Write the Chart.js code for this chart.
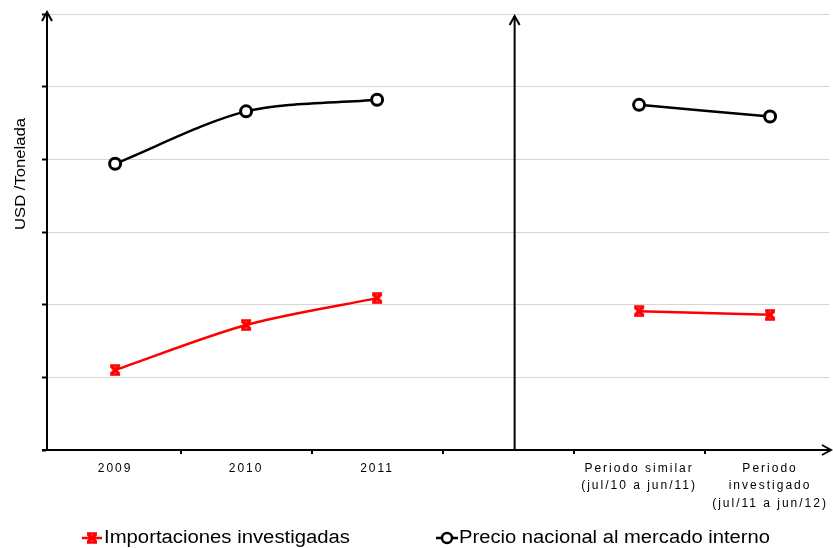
<!DOCTYPE html>
<html>
<head>
<meta charset="utf-8">
<script src="https://cdn.jsdelivr.net/npm/chart.js@4.4.1/dist/chart.umd.min.js"></script>
<style>
html,body{margin:0;padding:0;background:#fff;overflow:hidden;}
#wrap{width:833px;height:548px;overflow:hidden;position:relative;}
#c{position:absolute;left:0;top:0;width:833px;height:548px;}
</style>
</head>
<body>
<div id="wrap"><canvas id="c" width="833" height="548"></canvas></div>
<script>
// Data
const categories = ['2009', '2010', '2011', '', ['Periodo similar', '(jul/10 a jun/11)'], ['Periodo', 'investigado', '(jul/11 a jun/12)']];
const importaciones = [1.10, 1.72, 2.09, null, 1.91, 1.86];
const precioNacional = [3.94, 4.66, 4.82, null, 4.75, 4.59];
const seriesNames = ['Importaciones investigadas', 'Precio nacional al mercado interno'];
const yAxisTitle = 'USD /Tonelada';

const toPoints = arr => arr.map((v, i) => ({ x: i, y: v }));

// hourglass-like red marker
function makeRedMarker() {
  const c = document.createElement('canvas');
  c.width = 14; c.height = 12;
  const g = c.getContext('2d');
  g.strokeStyle = '#ff0000';
  g.lineWidth = 3.4;
  g.beginPath();
  g.moveTo(3, 2); g.lineTo(11, 10);
  g.moveTo(11, 2); g.lineTo(3, 10);
  g.stroke();
  g.lineWidth = 2.5;
  g.beginPath();
  g.moveTo(2, 1.5); g.lineTo(12, 1.5);
  g.moveTo(2, 10.5); g.lineTo(12, 10.5);
  g.stroke();
  return c;
}
const redMarker = makeRedMarker();

function drawArrow(ctx, x, y, dir) {
  ctx.save();
  ctx.strokeStyle = '#000';
  ctx.lineWidth = 2;
  ctx.beginPath();
  if (dir === 'up') {
    ctx.moveTo(x - 5, y + 9); ctx.lineTo(x, y); ctx.lineTo(x + 5, y + 9);
  } else {
    ctx.moveTo(x - 9, y - 5); ctx.lineTo(x, y); ctx.lineTo(x - 9, y + 5);
  }
  ctx.stroke();
  ctx.restore();
}

function fitText(ctx, text, x, y, width) {
  ctx.letterSpacing = '0px';
  const w = ctx.measureText(text).width;
  ctx.save();
  ctx.translate(x, y);
  ctx.scale(width / w, 1);
  ctx.fillText(text, 0, 0);
  ctx.restore();
}

const decor = {
  id: 'decor',
  beforeDraw(chart) {
    chart.ctx.letterSpacing = '2px';
  },
  afterDraw(chart) {
    const ctx = chart.ctx;
    ctx.letterSpacing = '0px';
    const xs = chart.scales.x, ys = chart.scales.y;
    const top = ys.getPixelForValue(6), bottom = ys.getPixelForValue(0);
    // y-axis arrow
    drawArrow(ctx, ys.right, top - 2, 'up');
    // x-axis line + arrow
    ctx.save();
    ctx.strokeStyle = '#000'; ctx.lineWidth = 2;
    ctx.beginPath(); ctx.moveTo(ys.right - 5, bottom); ctx.lineTo(831, bottom); ctx.stroke();
    // category boundary tick marks
    for (let i = 0; i < categories.length - 1; i++) {
      const tx = Math.round(xs.getPixelForValue(i + 0.5));
      ctx.beginPath(); ctx.moveTo(tx, bottom); ctx.lineTo(tx, bottom + 4); ctx.stroke();
    }
    ctx.restore();
    drawArrow(ctx, 831, bottom, 'right');
    // middle divider axis
    const mx = xs.getPixelForValue(3.05);
    ctx.save();
    ctx.strokeStyle = '#000';
    ctx.lineWidth = 2;
    ctx.beginPath();
    ctx.moveTo(mx, bottom);
    ctx.lineTo(mx, top + 2);
    ctx.stroke();
    ctx.restore();
    drawArrow(ctx, mx, top + 2, 'up');

    // y title
    ctx.save();
    ctx.fillStyle = '#000';
    ctx.font = '15px "Liberation Sans", Arial, sans-serif';
    ctx.translate(21, 174);
    ctx.rotate(-Math.PI / 2);
    ctx.textAlign = 'left';
    ctx.textBaseline = 'middle';
    fitText(ctx, yAxisTitle, -56, 0, 112);
    ctx.restore();

    // legend
    ctx.save();
    const ly = 538;
    ctx.font = '18px "Liberation Sans Narrow", "Liberation Sans", Arial, sans-serif';
    ctx.textBaseline = 'middle';
    ctx.textAlign = 'left';
    ctx.fillStyle = '#000';
    ctx.strokeStyle = '#ff0000';
    ctx.lineWidth = 2.5;
    ctx.beginPath(); ctx.moveTo(82, ly); ctx.lineTo(102, ly); ctx.stroke();
    ctx.drawImage(redMarker, 92 - 7, ly - 6);
    fitText(ctx, seriesNames[0], 104, ly, 246);
    ctx.strokeStyle = '#000';
    ctx.beginPath(); ctx.moveTo(436, ly); ctx.lineTo(458, ly); ctx.stroke();
    ctx.fillStyle = '#fff';
    ctx.lineWidth = 2.5;
    Chart.helpers.drawPoint(ctx, {pointStyle: 'circle', radius: 5, borderWidth: 2.5}, 447, ly);
    ctx.fillStyle = '#000';
    fitText(ctx, seriesNames[1], 459, ly, 311);
    ctx.restore();
  }
};

new Chart(document.getElementById('c'), {
  type: 'line',
  data: {
    datasets: [
      {
        label: seriesNames[0],
        data: toPoints(importaciones),
        borderColor: '#ff0000',
        backgroundColor: '#ff0000',
        borderWidth: 2.5,
        pointStyle: redMarker,
        pointRadius: 6,
        tension: 0.3,
        spanGaps: false
      },
      {
        label: seriesNames[1],
        data: toPoints(precioNacional),
        borderColor: '#000',
        backgroundColor: '#fff',
        borderWidth: 2.5,
        pointStyle: 'circle',
        pointRadius: 5.5,
        pointBorderWidth: 3,
        tension: 0.3,
        spanGaps: false
      }
    ]
  },
  options: {
    responsive: false,
    maintainAspectRatio: false,
    animation: false,
    layout: { autoPadding: false, padding: { top: 14, right: 4, left: 0, bottom: 0 } },
    plugins: { legend: { display: false }, tooltip: { enabled: false } },
    scales: {
      x: {
        type: 'linear',
        min: -0.52, max: 5.45,
        afterBuildTicks(s) { s.ticks = categories.map((c, i) => ({ value: i })); },
        grid: { display: false, drawTicks: false },
        border: { display: false },
        ticks: {
          color: '#000',
          font: { size: 12, family: '"Liberation Sans", Arial, sans-serif', lineHeight: 1.45 },
          padding: 10, maxRotation: 0, autoSkip: false,
          callback: v => categories[v]
        },
        afterFit(s) { s.height = 98; s.paddingLeft = 0; s.paddingRight = 0; }
      },
      y: {
        min: 0, max: 6,
        ticks: { stepSize: 1, display: false },
        grid: { color: '#d6d6d6', lineWidth: 1, drawTicks: true, tickLength: 5, tickColor: '#000', tickWidth: 2 },
        border: { display: true, color: '#000', width: 2, dash: [] },
        afterFit(s) { s.width = 47; s.paddingTop = 0; s.paddingBottom = 0; }
      }
    }
  },
  plugins: [decor]
});
</script>
</body>
</html>
